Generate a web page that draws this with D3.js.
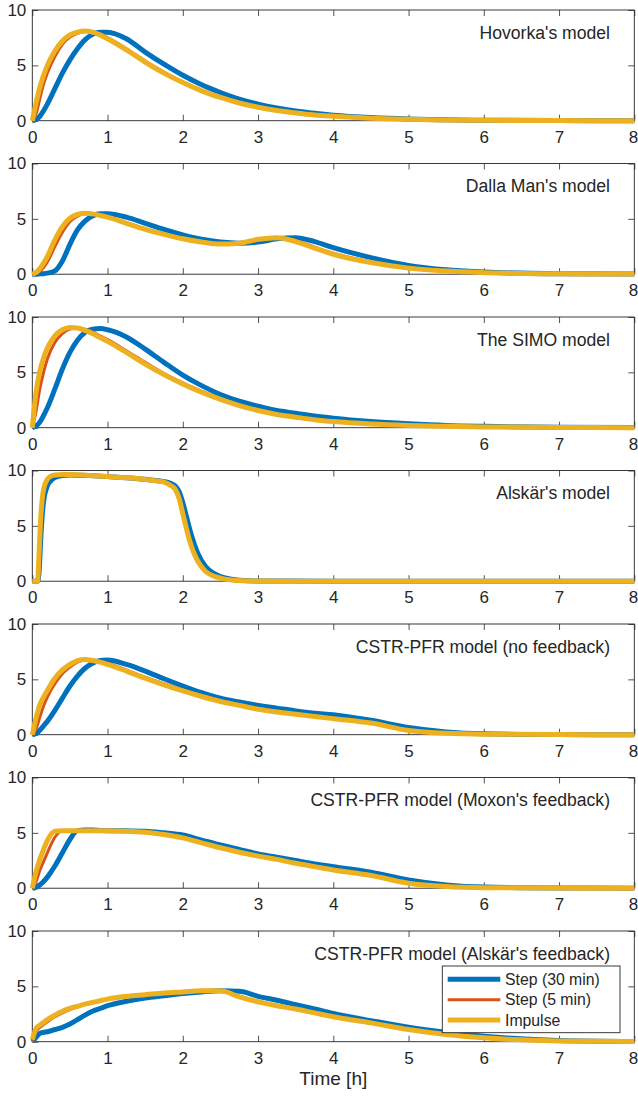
<!DOCTYPE html>
<html>
<head>
<meta charset="utf-8">
<script src="https://cdn.jsdelivr.net/npm/d3@7"></script>
<style>
  body { margin: 0; background: #fff; }
  text { font-family: "Liberation Sans", Arial, Helvetica, sans-serif; fill: #262626; }
</style>
</head>
<body>
<svg id="chart" width="638" height="1096"></svg>
<script>
// ---- data ----
const panelTitles = ["Hovorka's model", "Dalla Man's model", "The SIMO model", "Alskär's model",
    "CSTR-PFR model (no feedback)", "CSTR-PFR model (Moxon's feedback)", "CSTR-PFR model (Alskär's feedback)"];
const seriesNames = ["Step (30 min)", "Step (5 min)", "Impulse"];
const xTicks = [0, 1, 2, 3, 4, 5, 6, 7, 8];
const yTicks = [0, 5, 10];

// time grid [h] shared by most panels
const timeGrid = [0, 0.05, 0.1, 0.15, 0.2, 0.3, 0.4, 0.5, 0.6, 0.7, 0.8, 0.9, 1, 1.25, 1.5, 1.75,
    2, 2.25, 2.5, 2.75, 3, 3.25, 3.5, 3.75, 4, 4.5, 5, 5.5, 6, 7, 8];
// finer grid for Alskär's model (sharp edges)
const timeGridAlskar = [0, 0.07, 0.09, 0.11, 0.13, 0.15, 0.2, 0.25, 0.3, 0.4, 0.5, 0.75, 1, 1.25, 1.5,
    1.65, 1.75, 1.85, 1.9, 1.95, 2, 2.05, 2.1, 2.15, 2.2, 2.3, 2.4, 2.5, 2.65, 2.8, 3, 4, 8];

const hovorkaStep30 = [0, 0.1, 0.4, 0.9, 1.5, 2.9, 4.3, 5.5, 6.5, 7.3, 7.8, 8.0, 8.0, 7.4, 6.2, 5.1, 4.1, 3.25, 2.55, 1.95, 1.5, 1.15, 0.88, 0.67, 0.5, 0.28, 0.15, 0.08, 0.04, 0.01, 0];
const hovorkaStep5 = [0, 0.6, 2.0, 3.3, 4.3, 5.8, 6.9, 7.55, 7.9, 8.05, 8.0, 7.8, 7.5, 6.5, 5.4, 4.4, 3.5, 2.75, 2.15, 1.65, 1.25, 0.95, 0.72, 0.54, 0.41, 0.23, 0.12, 0.06, 0.03, 0.01, 0];
const hovorkaImpulse = [0, 1.6, 3.0, 4.1, 5.0, 6.3, 7.2, 7.75, 8.0, 8.1, 8.0, 7.75, 7.4, 6.4, 5.3, 4.3, 3.45, 2.7, 2.1, 1.6, 1.22, 0.92, 0.7, 0.52, 0.4, 0.22, 0.12, 0.06, 0.03, 0.01, 0];

const dallaStep30 = [0, 0, 0.03, 0.05, 0.1, 0.3, 1.2, 2.7, 4.0, 4.8, 5.25, 5.45, 5.45, 5.15, 4.6, 4.05, 3.55, 3.15, 2.9, 2.8, 2.9, 3.2, 3.3, 2.95, 2.4, 1.5, 0.8, 0.4, 0.2, 0.04, 0.01];
const dallaStep5 = [0, 0.05, 0.25, 0.6, 1.1, 2.5, 3.8, 4.75, 5.25, 5.45, 5.45, 5.35, 5.2, 4.65, 4.1, 3.65, 3.25, 2.92, 2.72, 2.75, 3.05, 3.3, 3.05, 2.45, 1.9, 1.1, 0.6, 0.3, 0.15, 0.03, 0.01];
const dallaImpulse = [0, 0.15, 0.5, 1.0, 1.6, 3.1, 4.3, 5.05, 5.4, 5.5, 5.45, 5.3, 5.15, 4.6, 4.05, 3.6, 3.2, 2.9, 2.72, 2.8, 3.15, 3.3, 2.95, 2.35, 1.8, 1.05, 0.55, 0.28, 0.14, 0.03, 0.01];

const simoStep30 = [0, 0.15, 0.5, 1.1, 1.8, 3.5, 5.3, 6.8, 7.9, 8.6, 8.9, 8.95, 8.85, 8.2, 7.1, 5.9, 4.75, 3.8, 3.0, 2.4, 1.95, 1.55, 1.3, 1.05, 0.85, 0.55, 0.35, 0.2, 0.12, 0.04, 0.01];
const simoStep5 = [0, 1.5, 3.5, 5.0, 6.2, 7.7, 8.5, 8.9, 9.0, 8.9, 8.65, 8.3, 7.95, 6.95, 5.9, 4.9, 4.05, 3.3, 2.62, 2.06, 1.6, 1.24, 0.98, 0.75, 0.57, 0.34, 0.2, 0.12, 0.07, 0.02, 0];
const simoImpulse = [0, 3.2, 5.1, 6.3, 7.2, 8.3, 8.85, 9.05, 9.0, 8.8, 8.5, 8.15, 7.8, 6.8, 5.75, 4.8, 3.95, 3.2, 2.55, 2.0, 1.55, 1.2, 0.95, 0.72, 0.55, 0.33, 0.2, 0.12, 0.07, 0.02, 0];

const alskarStep30 = [0, 0, 0.8, 3.5, 5.8, 7.2, 8.6, 9.1, 9.35, 9.55, 9.6, 9.55, 9.45, 9.35, 9.2, 9.1, 9.0, 8.8, 8.6, 8.1, 7.1, 5.8, 4.5, 3.4, 2.5, 1.35, 0.75, 0.42, 0.17, 0.06, 0.02, 0, 0];
const alskarStep5 = [0, 0, 1.5, 4.8, 7.0, 8.1, 9.1, 9.45, 9.6, 9.65, 9.65, 9.55, 9.45, 9.35, 9.2, 9.05, 8.95, 8.65, 8.35, 7.6, 6.2, 4.8, 3.55, 2.6, 1.85, 0.95, 0.52, 0.3, 0.12, 0.04, 0.01, 0, 0];
const alskarImpulse = [0, 0, 2.5, 5.5, 7.3, 8.3, 9.2, 9.5, 9.6, 9.65, 9.65, 9.55, 9.45, 9.35, 9.2, 9.05, 8.95, 8.6, 8.3, 7.5, 6.1, 4.7, 3.45, 2.5, 1.8, 0.9, 0.5, 0.28, 0.11, 0.04, 0.01, 0, 0];

const cstrStep30 = [0, 0.1, 0.4, 0.8, 1.2, 2.2, 3.3, 4.4, 5.3, 6.0, 6.45, 6.7, 6.75, 6.35, 5.75, 5.05, 4.4, 3.8, 3.3, 2.95, 2.65, 2.4, 2.15, 1.95, 1.8, 1.3, 0.65, 0.25, 0.08, 0.01, 0];
const cstrStep5 = [0, 0.5, 1.6, 2.6, 3.4, 4.6, 5.5, 6.1, 6.55, 6.75, 6.75, 6.6, 6.45, 5.85, 5.2, 4.6, 4.05, 3.55, 3.1, 2.72, 2.38, 2.12, 1.9, 1.7, 1.5, 1.1, 0.42, 0.14, 0.05, 0.01, 0];
const cstrImpulse = [0, 1.5, 2.7, 3.4, 4.0, 5.1, 5.85, 6.35, 6.7, 6.8, 6.7, 6.55, 6.35, 5.75, 5.1, 4.5, 3.95, 3.45, 3.0, 2.65, 2.3, 2.05, 1.85, 1.65, 1.45, 1.05, 0.38, 0.12, 0.04, 0.01, 0];

const moxonStep30 = [0, 0.1, 0.3, 0.6, 1.0, 2.0, 3.2, 4.4, 5.2, 5.25, 5.25, 5.22, 5.2, 5.18, 5.15, 5.0, 4.8, 4.35, 3.9, 3.5, 3.1, 2.8, 2.5, 2.2, 1.95, 1.45, 0.75, 0.3, 0.1, 0.02, 0];
const moxonStep5 = [0, 0.6, 1.6, 2.4, 3.2, 4.6, 5.2, 5.2, 5.2, 5.2, 5.2, 5.2, 5.18, 5.15, 5.07, 4.9, 4.6, 4.15, 3.7, 3.3, 2.95, 2.65, 2.3, 2.0, 1.7, 1.2, 0.5, 0.17, 0.06, 0.01, 0];
const moxonImpulse = [0, 1.5, 2.6, 3.5, 4.3, 5.15, 5.2, 5.2, 5.2, 5.2, 5.2, 5.2, 5.18, 5.15, 5.05, 4.85, 4.55, 4.1, 3.65, 3.25, 2.9, 2.6, 2.25, 1.95, 1.65, 1.15, 0.45, 0.15, 0.05, 0.01, 0];

const alskarFbStep30 = [0, 0.4, 0.75, 0.85, 0.9, 1.1, 1.3, 1.6, 2.0, 2.4, 2.75, 3.0, 3.25, 3.65, 3.95, 4.15, 4.35, 4.5, 4.6, 4.55, 4.1, 3.75, 3.35, 2.95, 2.55, 1.9, 1.3, 0.85, 0.5, 0.1, 0.01];
const alskarFbStep5 = [0, 0.9, 1.3, 1.55, 1.8, 2.25, 2.6, 2.9, 3.15, 3.35, 3.5, 3.65, 3.8, 4.05, 4.25, 4.4, 4.5, 4.6, 4.6, 4.1, 3.65, 3.3, 3.0, 2.65, 2.3, 1.75, 1.15, 0.7, 0.38, 0.07, 0.01];
const alskarFbImpulse = [0.2, 1.2, 1.5, 1.75, 2.0, 2.4, 2.75, 3.0, 3.2, 3.4, 3.55, 3.7, 3.85, 4.1, 4.25, 4.4, 4.5, 4.6, 4.6, 4.05, 3.6, 3.25, 2.95, 2.6, 2.25, 1.7, 1.1, 0.65, 0.35, 0.06, 0.01];

// one entry per subplot
const panels = [
    { t: timeGrid, ys: [hovorkaStep30, hovorkaStep5, hovorkaImpulse] },
    { t: timeGrid, ys: [dallaStep30, dallaStep5, dallaImpulse] },
    { t: timeGrid, ys: [simoStep30, simoStep5, simoImpulse] },
    { t: timeGridAlskar, ys: [alskarStep30, alskarStep5, alskarImpulse] },
    { t: timeGrid, ys: [cstrStep30, cstrStep5, cstrImpulse] },
    { t: timeGrid, ys: [moxonStep30, moxonStep5, moxonImpulse] },
    { t: timeGrid, ys: [alskarFbStep30, alskarFbStep5, alskarFbImpulse] }
];

// ---- layout ----
const colors = ["#0072BD", "#D95319", "#EDB120"];
const widths = [5, 3, 5];
const axColor = "#262626";
const left = 32.3, right = 634.3;
const firstTop = 10, panelStep = 153.5, panelH = 110.7;
const fontSize = 17;

const svg = d3.select("#chart");
const x = d3.scaleLinear().domain([0, 8]).range([left, right]);

panels.forEach(function(p, i) {
    let top = firstTop + i * panelStep;
    let bottom = top + panelH;
    let y = d3.scaleLinear().domain([0, 10]).range([bottom, top]);
    let g = svg.append("g");

    // ticks on all four sides, pointing inward (MATLAB box style)
    g.append("g")
        .attr("transform", "translate(0," + bottom + ")")
        .call(d3.axisBottom(x).tickValues(xTicks).tickSizeInner(-6).tickSizeOuter(0).tickPadding(10));
    g.append("g")
        .attr("transform", "translate(" + left + ",0)")
        .call(d3.axisLeft(y).tickValues(yTicks).tickSizeInner(-6).tickSizeOuter(0).tickPadding(6));
    g.append("g")
        .attr("transform", "translate(0," + top + ")")
        .call(d3.axisTop(x).tickValues(xTicks).tickSizeInner(-6).tickSizeOuter(0).tickFormat(""));
    g.append("g")
        .attr("transform", "translate(" + right + ",0)")
        .call(d3.axisRight(y).tickValues(yTicks).tickSizeInner(-6).tickSizeOuter(0).tickFormat(""));

    g.selectAll(".domain").remove();
    g.selectAll(".tick line").attr("stroke", axColor).attr("stroke-width", 0.8);
    g.selectAll(".tick text")
        .style("font-size", fontSize + "px")
        .style("font-family", "'Liberation Sans', Arial, sans-serif")
        .attr("fill", axColor);
    // last x label sits at the figure edge: keep it inside the page
    g.selectAll(".tick text")
        .filter(function(d) { return d === 8 && this.textContent === "8"; })
        .attr("text-anchor", "end")
        .attr("x", 3.5);

    g.append("rect")
        .attr("x", left).attr("y", top)
        .attr("width", right - left).attr("height", panelH)
        .attr("fill", "none")
        .attr("stroke", axColor)
        .attr("stroke-width", 0.9);

    // the three responses; impulse drawn last (on top)
    p.ys.forEach(function(vals, s) {
        let line = d3.line()
            .x(function(d, k) { return x(p.t[k]); })
            .y(function(d) { return y(d); })
            .curve(d3.curveMonotoneX);
        g.append("path")
            .datum(vals)
            .attr("d", line)
            .attr("fill", "none")
            .attr("stroke", colors[s])
            .attr("stroke-width", widths[s])
            .attr("stroke-linejoin", "round");
    });

    g.append("text")
        .attr("x", 610)
        .attr("y", top + 28.5)
        .attr("text-anchor", "end")
        .style("font-size", "17.6px")
        .text(panelTitles[i]);
});

// x label
svg.append("text")
    .attr("x", x(4))
    .attr("y", 1085)
    .attr("text-anchor", "middle")
    .style("font-size", "19px")
    .text("Time [h]");

// legend in last panel
const legend = svg.append("g");
legend.append("rect")
    .attr("x", 442.3).attr("y", 966)
    .attr("width", 177.7).attr("height", 66.7)
    .attr("fill", "#fff")
    .attr("stroke", axColor)
    .attr("stroke-width", 0.9);
seriesNames.forEach(function(name, s) {
    let ly = 979.3 + s * 20.4;
    legend.append("line")
        .attr("x1", 447.7).attr("x2", 500.3)
        .attr("y1", ly).attr("y2", ly)
        .attr("stroke", colors[s])
        .attr("stroke-width", widths[s]);
    legend.append("text")
        .attr("x", 505)
        .attr("y", ly)
        .attr("dy", "0.35em")
        .style("font-size", "15.8px")
        .text(name);
});
</script>
</body>
</html>
